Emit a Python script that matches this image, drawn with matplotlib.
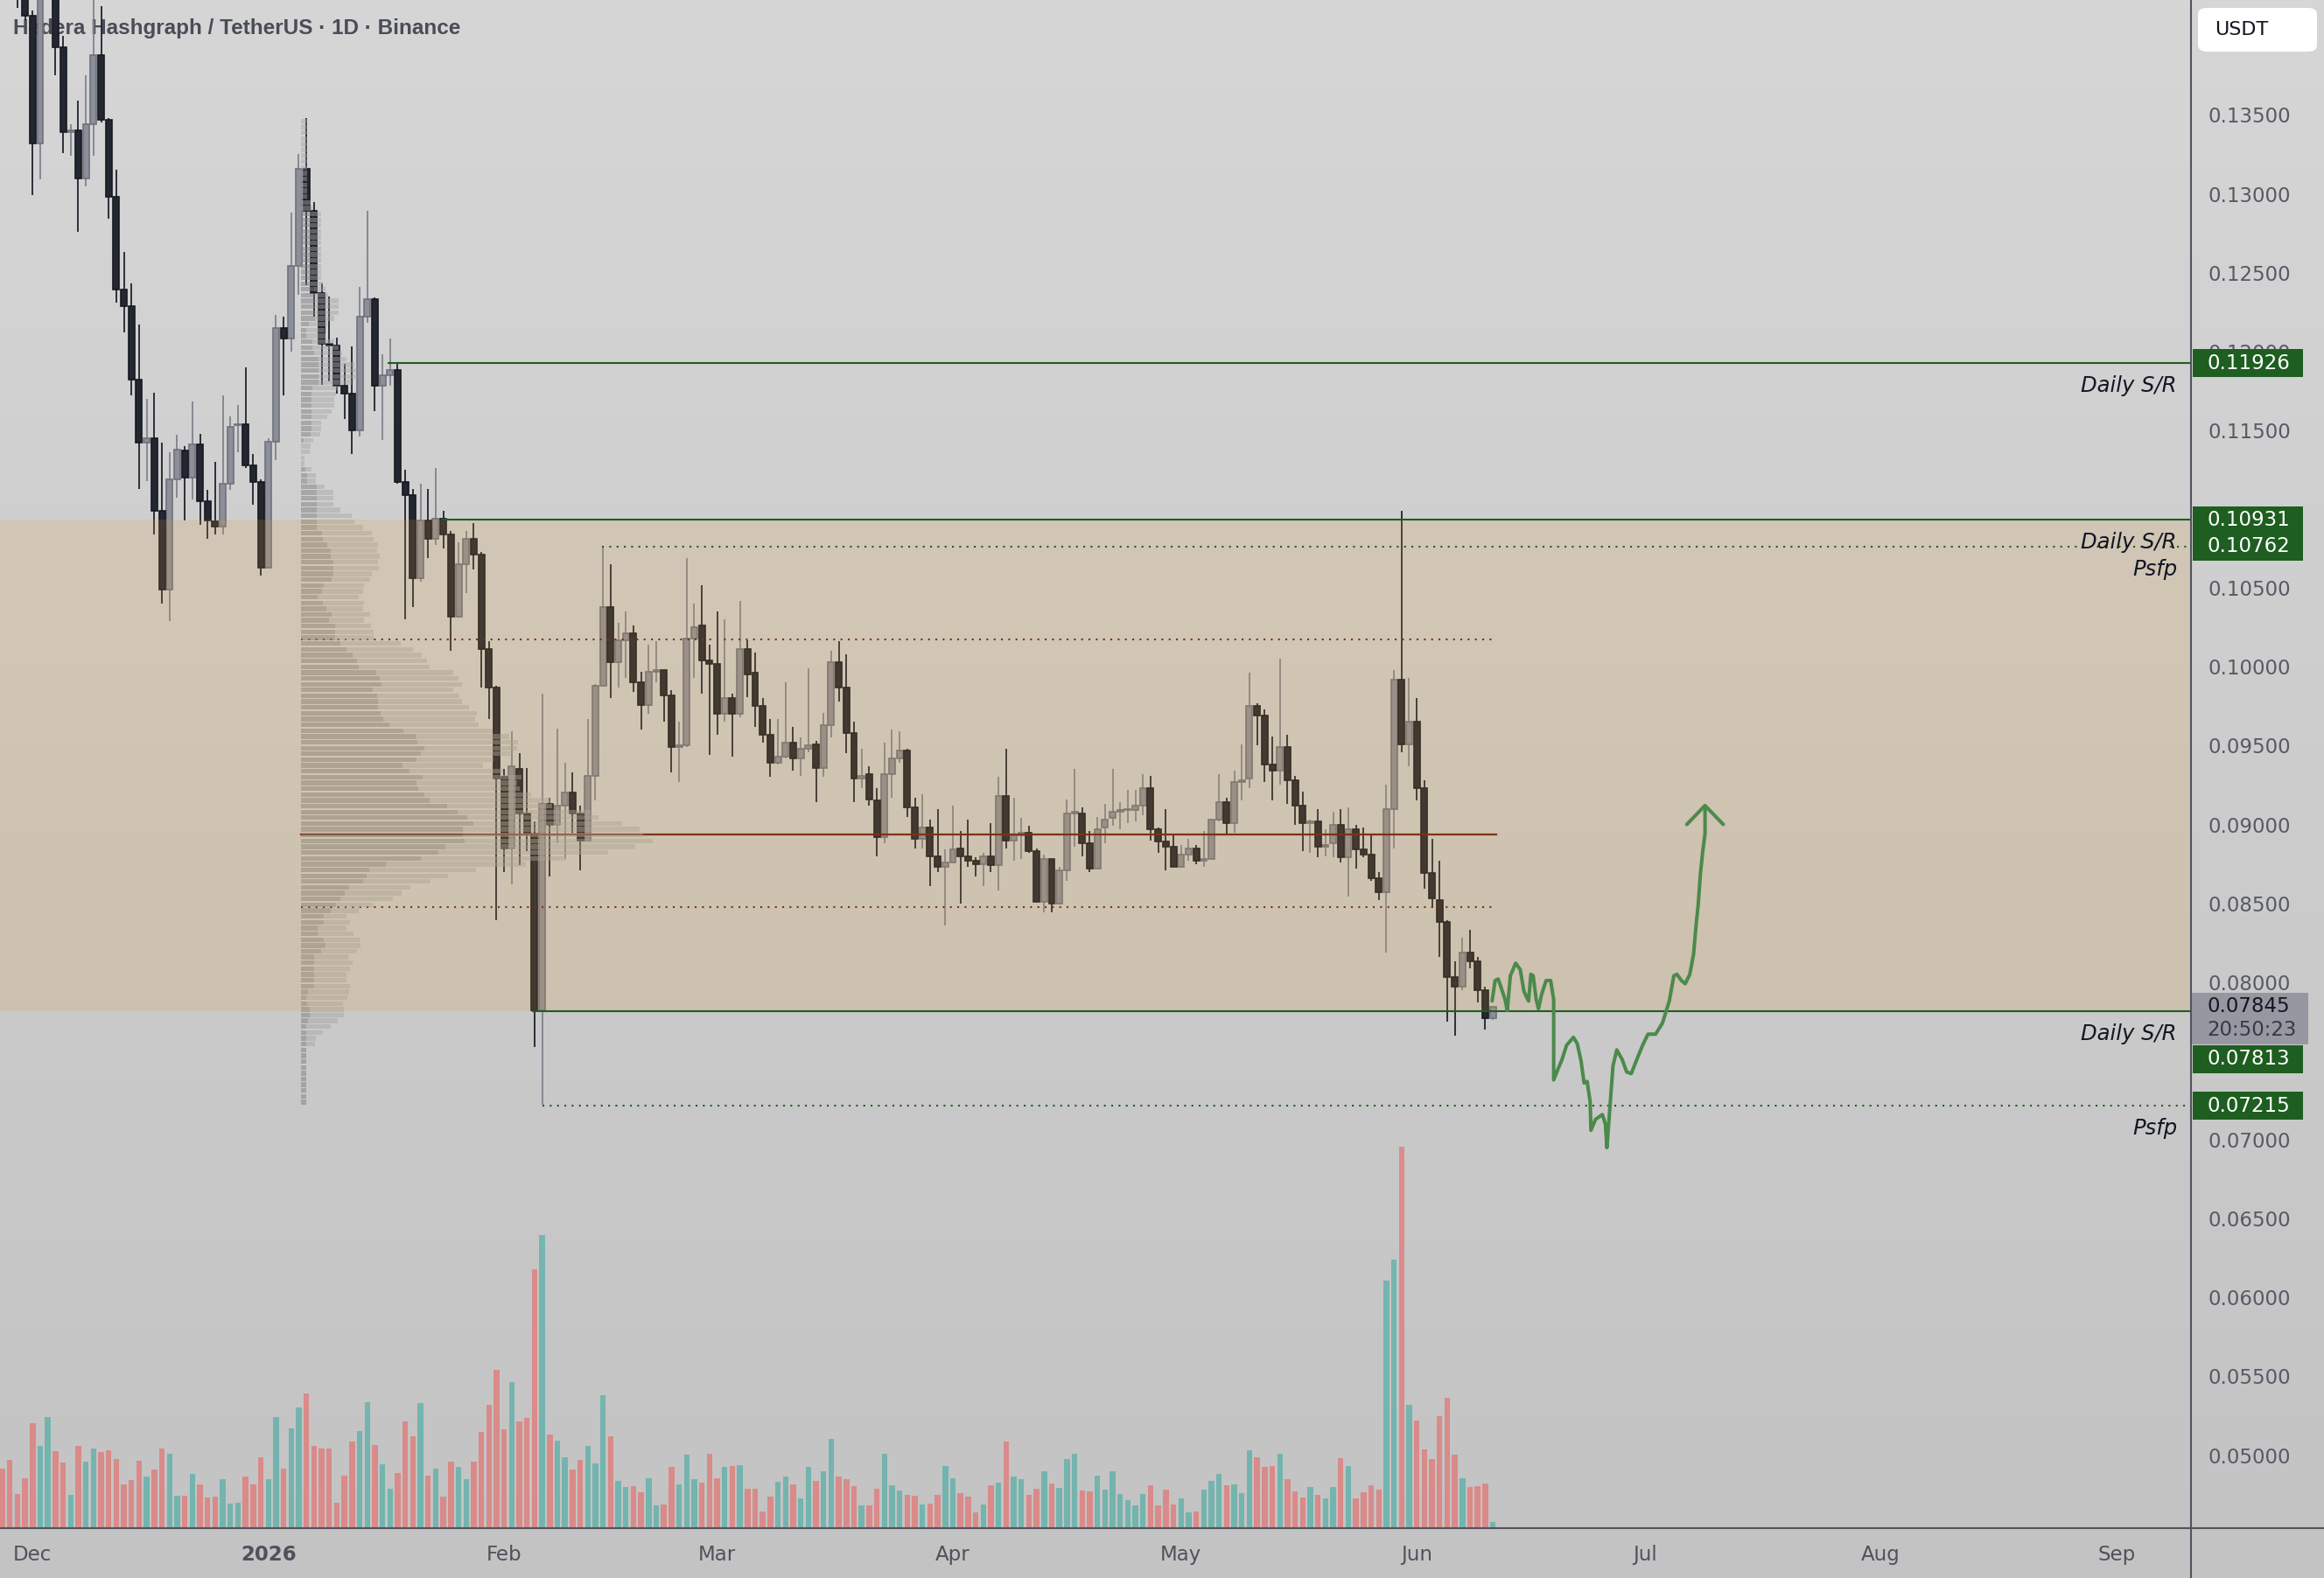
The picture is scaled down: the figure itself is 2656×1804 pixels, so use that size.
import datetime as dt

import numpy as np
import matplotlib

matplotlib.use("Agg")
import matplotlib.pyplot as plt
import matplotlib.dates as mdates
from matplotlib.colors import to_rgba
from matplotlib.lines import Line2D
from matplotlib.patches import FancyBboxPatch, Rectangle

# canvas / pane geometry in pixels
W, H = 2656, 1804
PANE_W, PANE_H = 2504, 1747

FIRST_DAY = dt.date(2025, 11, 27)
DEC1 = dt.date(2025, 12, 1)

# daily HBAR/USDT candles, 2025-11-27 .. 2026-06-11
OPEN = [
    .1530, .1500, .1460, .1450,
    .1413, .1332, .1440, .1470, .1393, .1339, .1340, .1310, .1344, .1388,
    .1347, .1298, .1239, .1229, .1182, .1142, .1145, .1099, .1049, .1119,
    .1137, .1120, .1141, .1105, .1092, .1089, .1116, .1153, .1154, .1128,
    .1117, .1063, .1143, .1215, .1208, .1254, .1316, .1289, .1237, .1205,
    .1204, .1178, .1173, .1150, .1222, .1233, .1178, .1185, .1188, .1117,
    .1109, .1056, .1093, .1081, .1094, .1084, .1032, .1065, .1081, .1071,
    .1011, .0987, .0930, .0885, .0935, .0907, .0894, .0782, .0913, .0900,
    .0912, .0920, .0907, .0890, .0931, .0988, .1038, .1003, .1017, .1021,
    .0990, .0976, .0997, .0998, .0982, .0949, .0950, .1018, .1026, .1004,
    .1002, .0970, .0980, .0970, .1011, .0996, .0975, .0957, .0939, .0943,
    .0952, .0942, .0948, .0951, .0936, .0963, .1003, .0987, .0958, .0929,
    .0932, .0915, .0892, .0932, .0942, .0947, .0911, .0891, .0898, .0880,
    .0873, .0876, .0885, .0880, .0877, .0875, .0880, .0874, .0918, .0890,
    .0893, .0895, .0883, .0851, .0878, .0850, .0871, .0907, .0907, .0888,
    .0872, .0898, .0904, .0908, .0909, .0909, .0912, .0923, .0897, .0889,
    .0886, .0873, .0881, .0885, .0877, .0878, .0903, .0914, .0901, .0927,
    .0929, .0975, .0969, .0938, .0934, .0949, .0928, .0912, .0901, .0902,
    .0886, .0888, .0900, .0879, .0897, .0884, .0881, .0866, .0857, .0910,
    .0992, .0951, .0965, .0923, .0869, .0852, .0838, .0803, .0797, .0819,
    .0813, .0795, .0777,
]
HIGH = [
    .1565, .1520, .1490, .1462,
    .1416, .1470, .1500, .1480, .1400, .1344, .1359, .1375, .1430, .1419,
    .1348, .1315, .1263, .1243, .1217, .1170, .1174, .1142, .1136, .1147,
    .1140, .1168, .1148, .1112, .1130, .1172, .1159, .1166, .1190, .1135,
    .1119, .1145, .1223, .1222, .1288, .1325, .1348, .1295, .1243, .1235,
    .1209, .1192, .1203, .1241, .1289, .1234, .1198, .1208, .1193, .1125,
    .1113, .1116, .1113, .1126, .1099, .1086, .1079, .1086, .1091, .1073,
    .1016, .0988, .0935, .0959, .0945, .0936, .0902, .0983, .0917, .0961,
    .0939, .0933, .0912, .0967, .0989, .1076, .1065, .1028, .1035, .1026,
    .0997, .1014, .1016, .0998, .0985, .0965, .1069, .1040, .1052, .1014,
    .1035, .1030, .0983, .1042, .1017, .1009, .0980, .0967, .0967, .0990,
    .0962, .0955, .0999, .0953, .0971, .1010, .1016, .1008, .0965, .0948,
    .0937, .0923, .0952, .0960, .0959, .0948, .0917, .0919, .0903, .0910,
    .0884, .0912, .0896, .0903, .0879, .0882, .0901, .0930, .0948, .0917,
    .0904, .0899, .0885, .0881, .0878, .0873, .0916, .0935, .0911, .0896,
    .0905, .0913, .0935, .0914, .0922, .0922, .0932, .0931, .0898, .0910,
    .0893, .0887, .0891, .0887, .0896, .0903, .0932, .0917, .0934, .0951,
    .0996, .0977, .0973, .0956, .1005, .0957, .0931, .0921, .0903, .0910,
    .0897, .0908, .0910, .0911, .0900, .0898, .0893, .0870, .0925, .0998,
    .1099, .0993, .0980, .0928, .0891, .0877, .0839, .0813, .0828, .0833,
    .0816, .0797, .0785,
]
LOW = [
    .1480, .1445, .1418, .1410,
    .1299, .1309, .1430, .1375, .1326, .1324, .1276, .1305, .1324, .1345,
    .1284, .1231, .1212, .1172, .1113, .1118, .1084, .1040, .1029, .1107,
    .1093, .1106, .1090, .1081, .1084, .1084, .1112, .1136, .1126, .1103,
    .1058, .1063, .1131, .1172, .1200, .1236, .1242, .1222, .1179, .1181,
    .1173, .1157, .1135, .1146, .1218, .1162, .1144, .1178, .1116, .1030,
    .1038, .1054, .1069, .1077, .1075, .1010, .1031, .1047, .1062, .0987,
    .0967, .0839, .0870, .0862, .0874, .0883, .0759, .0722, .0867, .0888,
    .0878, .0895, .0871, .0889, .0915, .0988, .0980, .0987, .0993, .0984,
    .0960, .0970, .0990, .0965, .0933, .0927, .0949, .0993, .0983, .0944,
    .0957, .0965, .0943, .0968, .0981, .0962, .0952, .0930, .0938, .0942,
    .0934, .0931, .0946, .0914, .0930, .0955, .0978, .0945, .0914, .0923,
    .0912, .0880, .0888, .0917, .0939, .0905, .0885, .0885, .0861, .0870,
    .0836, .0876, .0850, .0873, .0867, .0861, .0870, .0858, .0885, .0877,
    .0878, .0882, .0851, .0844, .0844, .0849, .0864, .0886, .0880, .0870,
    .0872, .0888, .0899, .0897, .0901, .0902, .0906, .0890, .0882, .0871,
    .0873, .0873, .0877, .0875, .0873, .0878, .0902, .0894, .0895, .0915,
    .0923, .0950, .0927, .0915, .0925, .0913, .0900, .0883, .0882, .0879,
    .0880, .0879, .0876, .0854, .0872, .0879, .0864, .0852, .0819, .0885,
    .0946, .0937, .0915, .0859, .0847, .0816, .0775, .0766, .0795, .0809,
    .0787, .0770, .0776,
]
CLOSE = [
    .1500, .1460, .1450, .1413,
    .1332, .1440, .1470, .1393, .1339, .1340, .1310, .1344, .1388, .1347,
    .1298, .1239, .1229, .1182, .1142, .1145, .1099, .1049, .1119, .1138,
    .1120, .1141, .1105, .1093, .1089, .1116, .1152, .1154, .1128, .1117,
    .1063, .1143, .1215, .1208, .1254, .1316, .1289, .1237, .1205, .1204,
    .1178, .1173, .1150, .1222, .1233, .1178, .1185, .1188, .1117, .1109,
    .1056, .1093, .1081, .1094, .1084, .1032, .1065, .1081, .1071, .1011,
    .0987, .0929, .0885, .0937, .0907, .0894, .0782, .0913, .0900, .0912,
    .0920, .0907, .0890, .0931, .0988, .1038, .1003, .1017, .1021, .0990,
    .0976, .0997, .0998, .0982, .0949, .0950, .1018, .1025, .1004, .1002,
    .0970, .0980, .0970, .1011, .0995, .0975, .0957, .0939, .0943, .0952,
    .0942, .0948, .0950, .0936, .0963, .1003, .0987, .0958, .0929, .0931,
    .0916, .0892, .0932, .0942, .0947, .0911, .0891, .0898, .0880, .0873,
    .0876, .0884, .0880, .0877, .0875, .0880, .0874, .0918, .0890, .0893,
    .0895, .0883, .0851, .0878, .0850, .0871, .0907, .0908, .0888, .0872,
    .0897, .0903, .0908, .0909, .0910, .0912, .0923, .0897, .0889, .0886,
    .0873, .0881, .0885, .0877, .0878, .0903, .0914, .0901, .0927, .0928,
    .0975, .0969, .0938, .0934, .0949, .0928, .0912, .0901, .0902, .0886,
    .0887, .0900, .0879, .0897, .0884, .0881, .0866, .0857, .0910, .0992,
    .0951, .0965, .0923, .0869, .0853, .0838, .0803, .0797, .0819, .0813,
    .0795, .0777, .07845,
]
# volume, millions HBAR
VOLUME = [
    68, 78, 39, 57,
    120, 94, 127, 88, 75, 38, 94, 76, 91, 87,
    89, 79, 50, 55, 77, 59, 67, 91, 85, 37,
    37, 62, 50, 35, 36, 56, 28, 29, 59, 50,
    81, 56, 127, 68, 114, 138, 154, 94, 91, 91,
    29, 60, 99, 111, 144, 95, 73, 45, 63, 122,
    105, 143, 60, 68, 36, 76, 70, 56, 76, 110,
    141, 181, 113, 167, 122, 126, 296, 335, 107, 100,
    81, 67, 78, 94, 74, 152, 105, 54, 47, 48,
    41, 57, 26, 27, 70, 50, 84, 56, 52, 85,
    57, 70, 71, 72, 45, 45, 19, 36, 53, 59,
    50, 34, 70, 54, 65, 102, 59, 56, 48, 26,
    26, 45, 85, 49, 43, 38, 37, 27, 28, 38,
    71, 57, 40, 36, 18, 27, 49, 52, 99, 59,
    56, 38, 45, 65, 51, 46, 79, 85, 43, 42,
    60, 44, 65, 39, 32, 26, 39, 49, 26, 44,
    27, 34, 18, 19, 44, 54, 62, 49, 50, 40,
    89, 81, 70, 71, 85, 56, 42, 35, 47, 38,
    34, 47, 80, 71, 34, 41, 49, 44, 283, 307,
    436, 141, 123, 90, 79, 128, 149, 84, 57, 47,
    48, 51, 7,
]

# 0.075 and 0.110 sit fully under the level labels, so they are not listed
PRICE_TICKS = [0.050, 0.055, 0.060, 0.065, 0.070, 0.080, 0.085, 0.090,
               0.095, 0.100, 0.105, 0.115, 0.120, 0.125, 0.130, 0.135]
MONTH_TICKS = [dt.date(2025, 12, 1), dt.date(2026, 1, 1), dt.date(2026, 2, 1),
               dt.date(2026, 3, 1), dt.date(2026, 4, 1), dt.date(2026, 5, 1),
               dt.date(2026, 6, 1), dt.date(2026, 7, 1), dt.date(2026, 8, 1),
               dt.date(2026, 9, 1)]
MONTH_LABELS = ["Dec", "2026", "Feb", "Mar", "Apr", "May", "Jun", "Jul", "Aug", "Sep"]

# horizontal levels: price, start (days after Dec 1), dotted?, label
LEVEL_PRICE = [0.11926, 0.10931, 0.10762, 0.07813, 0.07215]
LEVEL_START = [46.8, 53.8, 74.9, 65.8, 67.0]
LEVEL_DOTTED = [False, False, True, False, True]
LEVEL_TEXT = ["Daily S/R", "Daily S/R", "Psfp", "Daily S/R", "Psfp"]
ZONE = (0.07813, 0.10931)

# fixed range volume profile (anchored on the Jan 5 top) and its levels
VP_FIRST = 36          # days after Dec 1
VP_LEFT = 35.3
VP_ROWS = 170
VP_MAX_WIDTH = 46.2    # days
POC, VAH, VAL = 0.08936, 0.10176, 0.08478
VP_END = 192.4

# hand drawn projection (days after Dec 1, price)
PATH_DAYS = [191.9, 192.3, 192.7, 193.2, 193.6, 193.9, 194.3, 195.0, 195.6, 196.1,
             196.7, 197.0, 197.3, 197.7, 198.0, 198.4, 199.0, 199.6, 200.0, 200.0,
             200.5, 201.1, 201.7, 202.6, 203.1, 203.6, 204.0, 204.4, 204.8, 204.9,
             205.5, 206.4, 206.8, 207.0, 207.4, 207.8, 208.3, 209.0, 209.6, 210.2,
             211.1, 211.7, 212.4, 213.4, 214.3, 215.2, 215.8, 216.2, 216.8, 217.3,
             217.9, 218.4, 218.7, 219.0, 219.3, 219.6, 219.9, 219.9]
PATH_PRICE = [0.0788, 0.0801, 0.0802, 0.0795, 0.0789, 0.0782, 0.0804, 0.0812, 0.0808, 0.0794,
              0.0788, 0.0805, 0.0804, 0.0789, 0.0783, 0.0792, 0.0801, 0.0801, 0.0789, 0.0738,
              0.0744, 0.0751, 0.0760, 0.0765, 0.0761, 0.0750, 0.0736, 0.0737, 0.0724, 0.0706,
              0.0713, 0.0716, 0.0710, 0.0695, 0.0721, 0.0747, 0.0757, 0.0751, 0.0743, 0.0742,
              0.0753, 0.0760, 0.0767, 0.0767, 0.0774, 0.0788, 0.0804, 0.0805, 0.0801, 0.0799,
              0.0805, 0.0818, 0.0835, 0.0849, 0.0869, 0.0883, 0.0894, 0.0911]
ARROW_DAYS = [217.5, 219.9, 222.3]
ARROW_PRICE = [0.0900, 0.0912, 0.0900]

LAST_PRICE = 0.07845
COUNTDOWN = "20:50:23"

YLIM = (0.04537, 0.14229)
XLIM_DAYS = (-4.29, 283.8)

GREEN = "#1e5e20"
DARK_RED = "#6b1d0e"
AXIS_TXT = "#575a65"


def volume_profile(o, h, l, c, v, n_rows):
    edges = np.linspace(l.min(), h.max(), n_rows + 1)
    up = np.zeros(n_rows)
    dn = np.zeros(n_rows)
    for oo, hh, ll, cc, vv in zip(o, h, l, c, v):
        overlap = np.clip(np.minimum(edges[1:], hh) - np.maximum(edges[:-1], ll), 0, None)
        share = vv * overlap / max(hh - ll, 1e-9)
        if cc >= oo:
            up += share
        else:
            dn += share
    return edges, up, dn


def main():
    o, h, l, c = (np.array(a) for a in (OPEN, HIGH, LOW, CLOSE))
    h = np.maximum(h, np.maximum(o, c))
    l = np.minimum(l, np.minimum(o, c))
    v = np.array(VOLUME, dtype=float)
    dates = [FIRST_DAY + dt.timedelta(days=k) for k in range(len(o))]
    x = mdates.date2num(dates)
    d0 = mdates.date2num(DEC1)
    bull = c >= o

    fig = plt.figure(figsize=(W / 100, H / 100), dpi=100)

    # soft vertical gradient background
    bg = fig.add_axes([0, 0, 1, 1], zorder=-10)
    grad = np.linspace(214, 195, 256)[:, None] / 255
    bg.imshow(np.dstack([grad] * 3), aspect="auto", extent=[0, 1, 0, 1])
    bg.axis("off")

    rect = [0, 1 - PANE_H / H, PANE_W / W, PANE_H / H]
    axv = fig.add_axes(rect)
    axv.set_facecolor("none")
    axv.axis("off")
    ax = fig.add_axes(rect)
    ax.set_facecolor("none")
    xlim = (d0 + XLIM_DAYS[0], d0 + XLIM_DAYS[1])

    # volume overlay
    vcol = [to_rgba("#26a69a", 0.5) if b else to_rgba("#ef5350", 0.5) for b in bull]
    axv.bar(x, v, width=0.74, color=vcol, linewidth=0)
    axv.set_xlim(*xlim)
    axv.set_ylim(0, PANE_H)

    # candles
    body_lo = np.minimum(o, c)
    body_h = np.maximum(np.abs(c - o), 0.00008)
    ax.vlines(x[bull], l[bull], h[bull], color="#80838d", lw=1.3, zorder=2)
    ax.vlines(x[~bull], l[~bull], h[~bull], color="#1f232e", lw=1.3, zorder=2)
    ax.bar(x[bull], body_h[bull], bottom=body_lo[bull], width=0.8,
           color="#8c8f99", edgecolor="#6f727c", linewidth=1.2, zorder=3)
    ax.bar(x[~bull], body_h[~bull], bottom=body_lo[~bull], width=0.8,
           color="#232732", edgecolor="#161920", linewidth=1.2, zorder=3)

    # volume profile
    k0 = (DEC1 - FIRST_DAY).days + VP_FIRST
    edges, up, dn = volume_profile(o[k0:], h[k0:], l[k0:], c[k0:], v[k0:], VP_ROWS)
    scale = VP_MAX_WIDTH / (up + dn).max()
    row_h = edges[1] - edges[0]
    mid = (edges[:-1] + edges[1:]) / 2
    left = d0 + VP_LEFT
    ax.barh(mid, up * scale, left=left, height=row_h * 0.8,
            color=to_rgba("#7f7f7f", 0.5), linewidth=0, zorder=5)
    ax.barh(mid, dn * scale, left=left + up * scale, height=row_h * 0.8,
            color=to_rgba("#a5a5a5", 0.45), linewidth=0, zorder=5)
    ax.plot([left, d0 + VP_END], [POC, POC], color=DARK_RED, lw=1.6, zorder=4.5)
    for lvl in (VAH, VAL):
        ax.plot([left, d0 + VP_END], [lvl, lvl], color=DARK_RED, lw=1.5,
                ls=(0, (1, 3)), zorder=4.5)

    # range zone
    ax.axhspan(*ZONE, color=(224 / 255, 153 / 255, 53 / 255), alpha=0.17, lw=0, zorder=6)

    # levels and their labels
    for price, start, dotted, text in zip(LEVEL_PRICE, LEVEL_START, LEVEL_DOTTED, LEVEL_TEXT):
        ax.plot([d0 + start, xlim[1]], [price, price], color=GREEN,
                lw=1.5, ls=(0, (1, 3)) if dotted else "-", zorder=7)
        ax.annotate(text, xy=(1 - 16 / PANE_W, price), xycoords=ax.get_yaxis_transform(),
                    xytext=(0, -18.7), textcoords="offset points", ha="right", va="center",
                    fontsize=17.5, style="italic", color="#131722", zorder=8)

    # projection
    ax.plot(d0 + np.array(PATH_DAYS), PATH_PRICE, color="#4b8a4b", lw=2.9,
            solid_capstyle="round", solid_joinstyle="round", zorder=8)
    ax.plot(d0 + np.array(ARROW_DAYS), ARROW_PRICE, color="#4b8a4b", lw=2.9,
            solid_capstyle="round", solid_joinstyle="round", zorder=8)

    ax.text(15 / PANE_W, 1 - 32 / PANE_H, "Hedera Hashgraph / TetherUS · 1D · Binance",
            transform=ax.transAxes, fontsize=17.5, fontweight="bold",
            family=["Liberation Sans", "DejaVu Sans"], color="#4a4d58", va="center", zorder=1)

    # axes cosmetics
    ax.set_xlim(*xlim)
    ax.set_ylim(*YLIM)
    for s in ax.spines.values():
        s.set_visible(False)
    ax.yaxis.tick_right()
    ax.set_yticks(PRICE_TICKS)
    ax.set_yticklabels([f"{t:.5f}" for t in PRICE_TICKS])
    ax.tick_params(axis="y", length=0, pad=13.7, labelsize=16.5, labelcolor=AXIS_TXT)
    ax.set_xticks(mdates.date2num(MONTH_TICKS))
    ax.set_xticklabels(MONTH_LABELS)
    ax.tick_params(axis="x", length=0, pad=14, labelsize=16.5, labelcolor="#4f525c")
    ax.get_xticklabels()[1].set_fontweight("bold")

    # price scale labels
    px = 1 / 18024  # price per pixel
    ytr = ax.get_yaxis_transform()

    def price_box(price, text, face, fg, shift_px=0, w_px=126, h_px=31.6):
        yc = price - shift_px * px
        ax.add_patch(Rectangle((1 + 2 / PANE_W, yc - h_px / 2 * px), w_px / PANE_W, h_px * px,
                               transform=ytr, facecolor=face, edgecolor="none",
                               clip_on=False, zorder=10))
        ax.text(1 + 18 / PANE_W, yc, text, transform=ytr, fontsize=16.5, color=fg,
                va="center", ha="left", clip_on=False, zorder=11)

    for price in LEVEL_PRICE:
        shift = 54.5 if price == 0.07813 else 0
        price_box(price, f"{price:.5f}", GREEN, "white", shift)

    ax.add_patch(Rectangle((1 + 1 / PANE_W, LAST_PRICE - 43 * px), 133 / PANE_W, 59 * px,
                           transform=ytr, facecolor="#9598a1", edgecolor="none",
                           clip_on=False, zorder=10))
    ax.text(1 + 18 / PANE_W, LAST_PRICE, f"{LAST_PRICE:.5f}", transform=ytr, fontsize=16.5,
            color="#131722", va="center", clip_on=False, zorder=11)
    ax.text(1 + 18 / PANE_W, LAST_PRICE - 27 * px, COUNTDOWN, transform=ytr, fontsize=16.5,
            color="#363a45", va="center", clip_on=False, zorder=11)

    fig.add_artist(FancyBboxPatch((2512 / W, 1 - 59 / H), 136 / W, 50 / H,
                                  boxstyle="round,pad=0,rounding_size=0.004",
                                  transform=fig.transFigure, facecolor="white",
                                  edgecolor="none"))
    fig.text(2531 / W, 1 - 34 / H, "USDT", fontsize=16, color="#131722", va="center")

    # pane separators
    fig.add_artist(Line2D([PANE_W / W] * 2, [0, 1], transform=fig.transFigure,
                          color="#50535e", lw=1.5))
    fig.add_artist(Line2D([0, 1], [1 - PANE_H / H] * 2, transform=fig.transFigure,
                          color="#50535e", lw=1.5))

    fig.savefig("out.png", dpi=100)


if __name__ == "__main__":
    main()
